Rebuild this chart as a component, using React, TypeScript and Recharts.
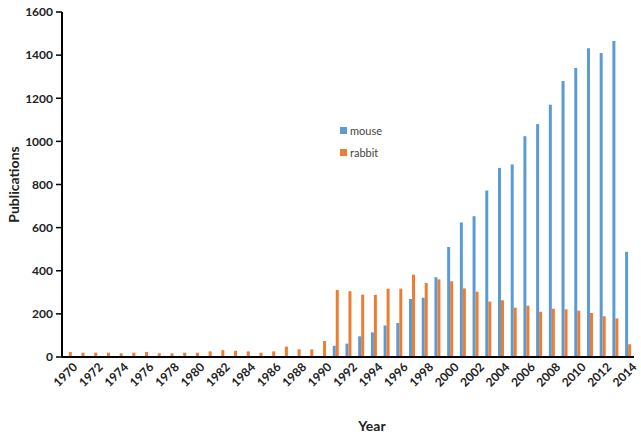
import { BarChart, Bar, XAxis, YAxis } from 'recharts'

const years = [
  '1970', '1971', '1972', '1973', '1974', '1975', '1976', '1977', '1978', '1979',
  '1980', '1981', '1982', '1983', '1984', '1985', '1986', '1987', '1988', '1989',
  '1990', '1991', '1992', '1993', '1994', '1995', '1996', '1997', '1998', '1999',
  '2000', '2001', '2002', '2003', '2004', '2005', '2006', '2007', '2008', '2009',
  '2010', '2011', '2012', '2013', '2014',
]

const mouse = [
  0, 0, 0, 0, 0, 0, 0, 0, 0, 0,
  0, 0, 0, 0, 0, 0, 0, 0, 0, 0,
  4, 52, 62, 96, 114, 146, 158, 269, 275, 370,
  510, 624, 653, 772, 877, 893, 1024, 1080, 1170, 1280,
  1340, 1432, 1410, 1465, 488,
]

const rabbit = [
  23, 20, 20, 20, 17, 20, 23, 17, 17, 20,
  20, 26, 32, 29, 26, 20, 26, 48, 36, 35,
  74, 311, 305, 289, 288, 317, 317, 382, 343, 360,
  351, 318, 303, 257, 263, 229, 238, 210, 224, 221,
  215, 204, 189, 179, 59,
]

const yTicks = [0, 200, 400, 600, 800, 1000, 1200, 1400, 1600]

const data = years.map((year, i) => ({ year, mouse: mouse[i], rabbit: rabbit[i] }))

const font = 'Lato, "Open Sans", sans-serif'

function YearTick({ x, y, payload }: any) {
  return (
    <g transform={`translate(${x},${y})`}>
      <text
        x={5}
        y={9}
        textAnchor="end"
        transform="rotate(-45)"
        fontFamily={font}
        fontWeight={700}
        fontSize={12}
        fill="#222"
      >
        {payload.value}
      </text>
    </g>
  )
}

const legendItems = [
  { name: 'mouse', color: '#5B9BD5' },
  { name: 'rabbit', color: '#ED7D31' },
]

export default function App() {
  return (
    <div style={{ position: 'absolute', left: 0, top: 0, width: 641, height: 435, background: '#fff' }}>
      <BarChart
        width={641}
        height={435}
        data={data}
        margin={{ top: 12, right: 7, left: 0, bottom: 0 }}
        barCategoryGap="30%"
        barGap={0}
      >
        <XAxis
          dataKey="year"
          interval={1}
          tick={<YearTick />}
          tickLine={false}
          axisLine={{ stroke: '#000', strokeWidth: 2 }}
          height={78}
          label={{
            value: 'Year',
            position: 'insideBottom',
            offset: 4,
            dx: 24,
            style: { fontFamily: font, fontWeight: 700, fontSize: 14, fill: '#222' },
          }}
        />
        <YAxis
          domain={[0, 1600]}
          ticks={yTicks}
          width={62}
          tickSize={6}
          tickMargin={3}
          tickLine={{ stroke: '#000', strokeWidth: 1.5 }}
          axisLine={{ stroke: '#000', strokeWidth: 2 }}
          tick={{ fontFamily: font, fontWeight: 700, fontSize: 12, fill: '#222' }}
          label={{
            value: 'Publications',
            angle: -90,
            position: 'insideLeft',
            offset: 14,
            style: { textAnchor: 'middle', fontFamily: font, fontWeight: 700, fontSize: 14, fill: '#222' },
          }}
        />
        <Bar dataKey="mouse" name="mouse" fill="#5B9BD5" isAnimationActive={false} />
        <Bar dataKey="rabbit" name="rabbit" fill="#ED7D31" isAnimationActive={false} />
      </BarChart>
      <div style={{ position: 'absolute', left: 340, top: 119, fontFamily: font, fontSize: 11, color: '#444' }}>
        {legendItems.map((it) => (
          <div key={it.name} style={{ display: 'flex', alignItems: 'center', height: 22 }}>
            <span style={{ width: 7, height: 7, background: it.color, marginRight: 3, display: 'inline-block' }} />
            {it.name}
          </div>
        ))}
      </div>
    </div>
  )
}
